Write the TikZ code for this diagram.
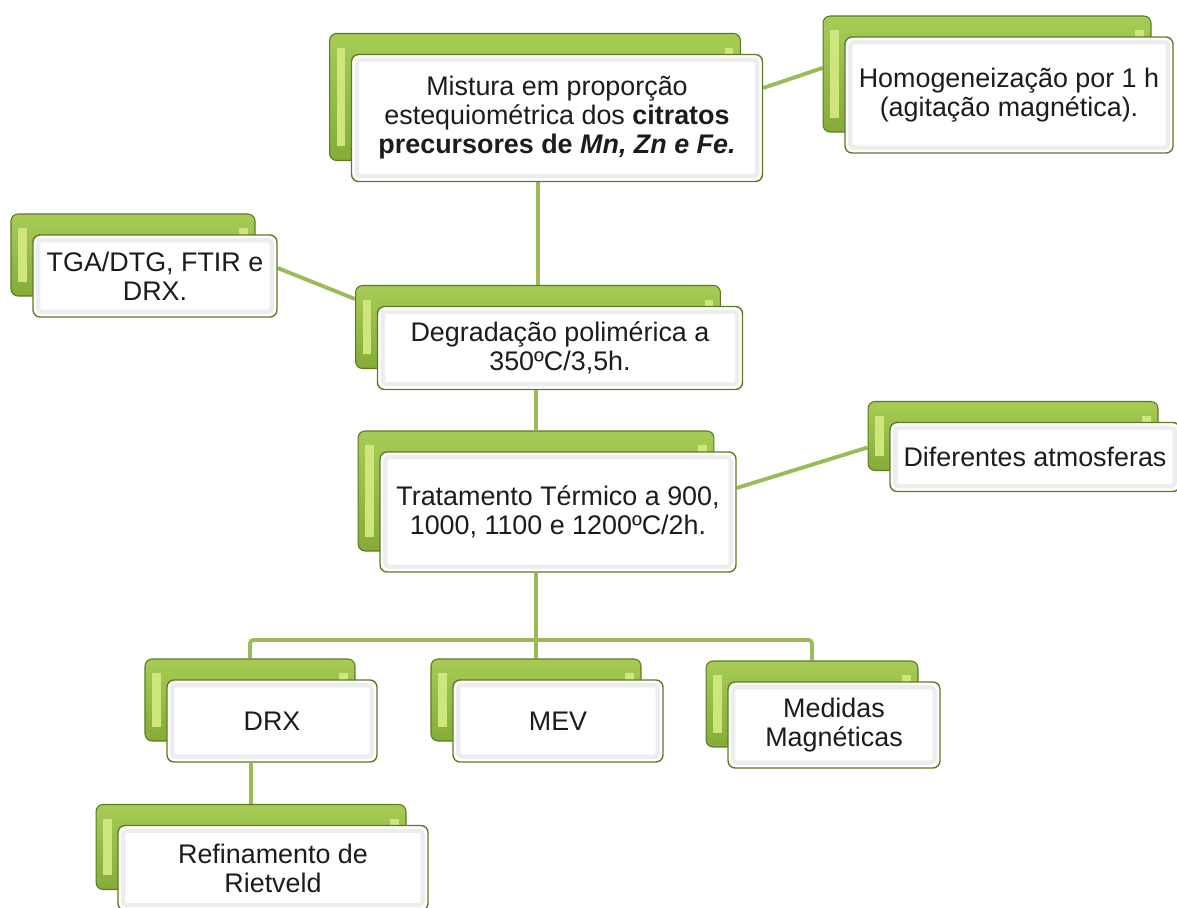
\documentclass[tikz,border=0pt]{standalone}
\usepackage{fontspec}
\setmainfont{Liberation Sans}
\usetikzlibrary{positioning,backgrounds,calc}
\usepackage{xcolor}
\definecolor{leaf}{HTML}{94BD48}
\definecolor{leaftop}{HTML}{A6CC56}
\definecolor{leafbot}{HTML}{84AC36}
\definecolor{leaflight}{HTML}{CFE57E}
\definecolor{moss}{HTML}{5C7A24}
\definecolor{wire}{HTML}{9BBB59}
\definecolor{ink}{HTML}{1C1C1C}

\begin{document}
\begin{tikzpicture}[
  x=0.02cm, y=-0.02cm,
  font=\fontsize{15.3}{16.5}\selectfont,
  back/.style={draw=moss, line width=0.6pt, rounded corners=4pt, top color=leaftop, bottom color=leafbot,
    path picture={\fill[leaflight, sharp corners]
      ([shift={(4pt,8pt)}]path picture bounding box.south west) rectangle
      ([shift={(9pt,-8pt)}]path picture bounding box.north west);
      \fill[leaflight, sharp corners]
      ([shift={(-9pt,8pt)}]path picture bounding box.south east) rectangle
      ([shift={(-4pt,-8pt)}]path picture bounding box.north east);}},
  card/.style={draw=moss, line width=0.8pt, rounded corners=4pt, fill=white, text=ink, align=center, inner sep=2pt,
    path picture={\draw[black!7, line width=2.5pt, rounded corners=2pt]
      ([shift={(3pt,3pt)}]path picture bounding box.south west) rectangle
      ([shift={(-3pt,-3pt)}]path picture bounding box.north east);}},
  link/.style={draw=wire, line width=2.2pt}
]
\useasboundingbox (0,0) rectangle (1177,908);

% top row
\node[back, minimum width=8.22cm, minimum height=2.54cm] (mixG) at (535,97) {};
\node[card, minimum width=8.22cm, minimum height=2.54cm] (mix) at (557,118)
  {Mistura em proporção\\ estequiométrica dos \textbf{citratos}\\ \textbf{precursores de \textit{Mn, Zn e Fe.}}};

\node[back, minimum width=6.56cm, minimum height=2.32cm] (homG) at (987,74) {};
\node[card, minimum width=6.56cm, minimum height=2.32cm] (hom) at (1009,95)
  {Homogeneização por 1 h\\ (agitação magnética).};

% degradation
\node[back, minimum width=4.88cm, minimum height=1.64cm] (tgaG) at (133,255) {};
\node[card, minimum width=4.88cm, minimum height=1.64cm] (tga) at (155,276)
  {TGA/DTG, FTIR e\\ DRX.};

\node[back, minimum width=7.3cm, minimum height=1.66cm] (degG) at (538,327) {};
\node[card, minimum width=7.3cm, minimum height=1.66cm] (deg) at (560,348)
  {Degradação polimérica a\\ 350ºC/3,5h.};

% heat treatment
\node[back, minimum width=7.12cm, minimum height=2.4cm] (trtG) at (536,491) {};
\node[card, minimum width=7.12cm, minimum height=2.4cm] (trt) at (558,512)
  {Tratamento Térmico a 900,\\ 1000, 1100 e 1200ºC/2h.};

\node[back, minimum width=5.8cm, minimum height=1.38cm] (difG) at (1013,436) {};
\node[card, minimum width=5.8cm, minimum height=1.38cm] (dif) at (1035,457)
  {Diferentes atmosferas};

% characterisation
\node[back, minimum width=4.2cm, minimum height=1.64cm] (drxG) at (250,700) {};
\node[card, minimum width=4.2cm, minimum height=1.64cm] (drx) at (272,721) {DRX};

\node[back, minimum width=4.2cm, minimum height=1.64cm] (mevG) at (536,700) {};
\node[card, minimum width=4.2cm, minimum height=1.64cm] (mev) at (558,721) {MEV};

\node[back, minimum width=4.24cm, minimum height=1.72cm] (medG) at (812,704) {};
\node[card, minimum width=4.24cm, minimum height=1.72cm] (med) at (834,725)
  {Medidas\\ Magnéticas};

\node[back, minimum width=6.2cm, minimum height=1.7cm] (refG) at (251,847) {};
\node[card, minimum width=6.2cm, minimum height=1.7cm] (ref) at (273,868)
  {Refinamento de\\ Rietveld};

\coordinate (bus) at (536,640);

\begin{scope}[on background layer]
\draw[link] ([yshift=0.6cm]mix.east) -- ([yshift=0.12cm]homG.west);
\draw[link] (mix.south -| degG.north) -- (degG.north);
\draw[link] ([yshift=0.16cm]tga.east) -- ([yshift=0.56cm]degG.west);
\draw[link] (deg.south -| trtG.north) -- (trtG.north);
\draw[link] ([yshift=0.48cm]trt.east) -- ([yshift=-0.23cm]difG.west);
\draw[link] (trt.south -| trtG.north) -- (mevG.north);
\draw[link, rounded corners=2pt] (drxG.north) |- (bus) -| (medG.north);
\draw[link] (drx.south -| refG.north) -- (refG.north);
\end{scope}

\end{tikzpicture}
\end{document}
